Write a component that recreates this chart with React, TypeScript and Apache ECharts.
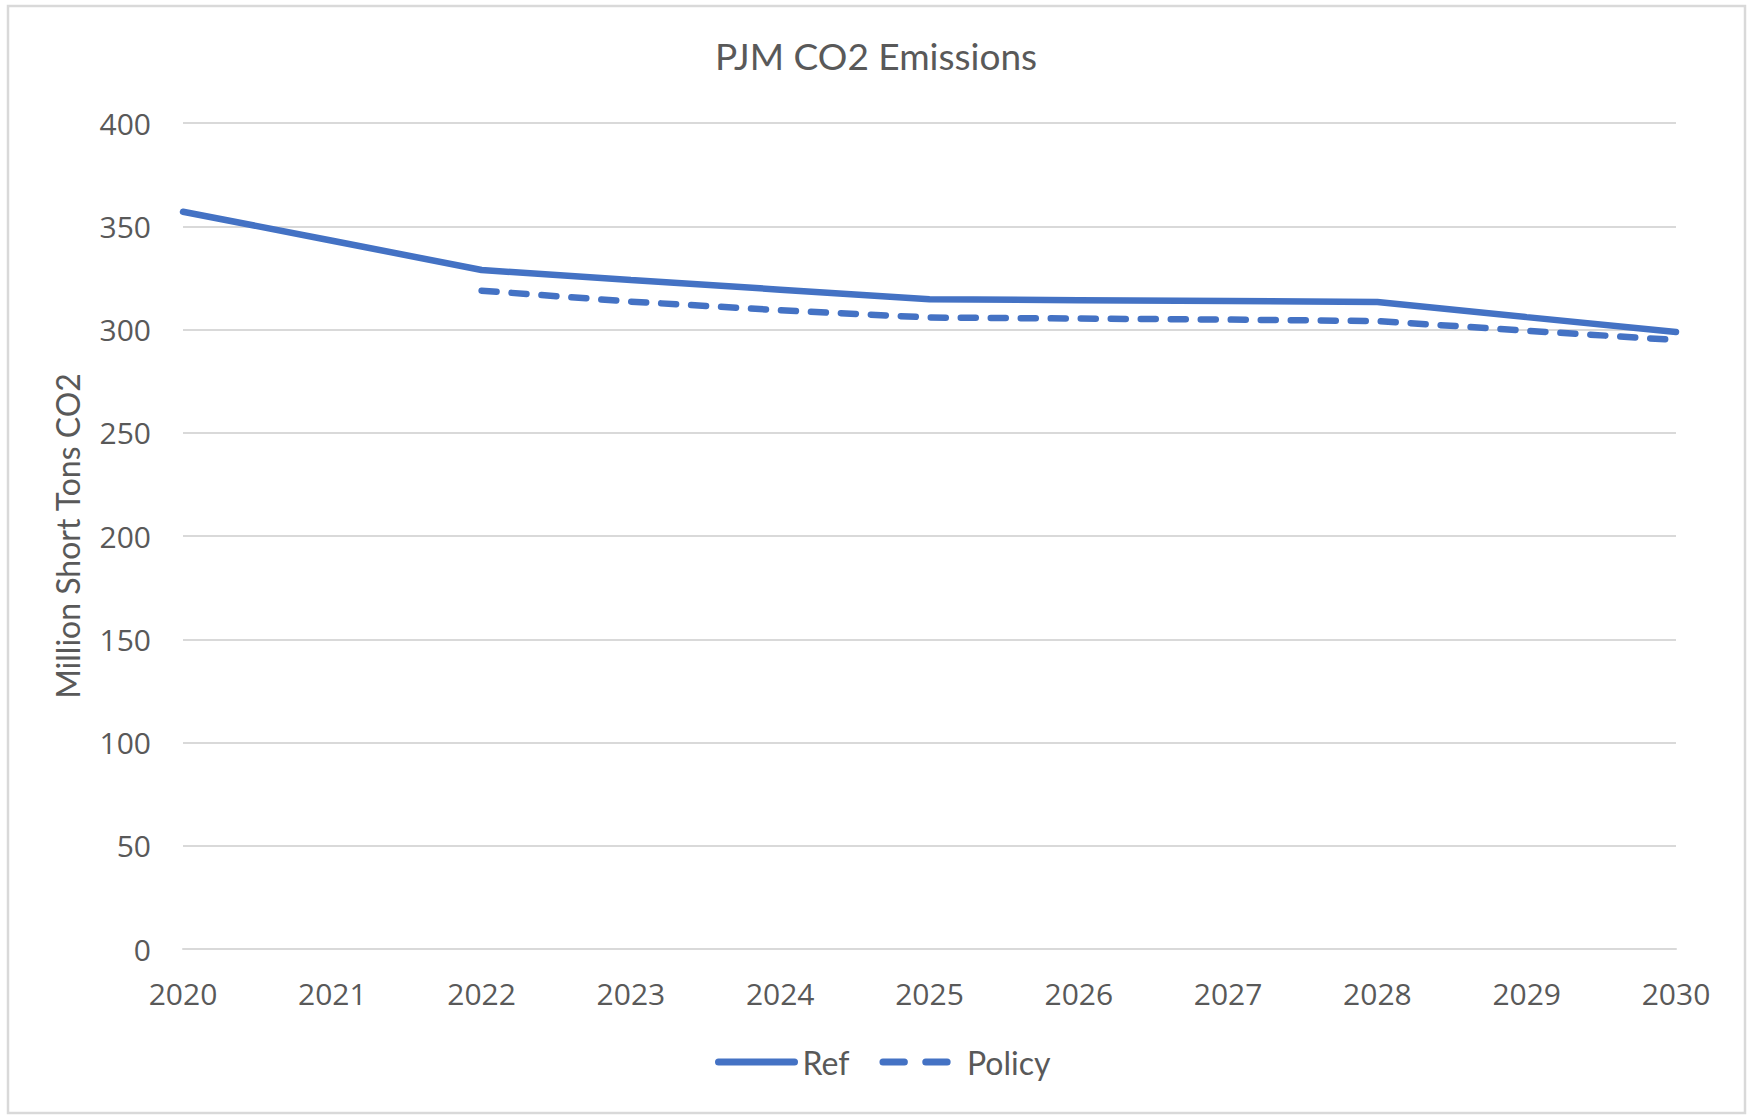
import React, { useEffect, useRef } from "react";
import * as echarts from "echarts";

const years = ["2020", "2021", "2022", "2023", "2024", "2025", "2026", "2027", "2028", "2029", "2030"];
const refValues = [357, 343, 328.8, 324, 319.3, 314.6, 314.2, 313.8, 313.3, 306, 298.8];
const policyValues: (number | null)[] = [null, null, 318.8, 313.5, 309.3, 305.8, 305.3, 304.8, 304.1, 299.4, 294.9];
const titleText = "PJM CO2 Emissions";
const yAxisName = "Million Short Tons CO2";

const BLUE = "#4472C4";
const TEXT = "#595959";
const GRID = "#d9d9d9";

export default function App() {
  const ref = useRef<HTMLDivElement>(null);
  useEffect(() => {
    if (!ref.current) return;
    const chart = echarts.init(ref.current, null, { renderer: "svg" });
    chart.setOption({
      animation: false,
      backgroundColor: "#ffffff",
      title: {
        text: titleText,
        left: "center",
        top: 32,
        textStyle: { fontFamily: "Lato", fontSize: 37, fontWeight: "normal", color: TEXT },
      },
      graphic: [
        {
          type: "rect",
          shape: { x: 8, y: 6, width: 1737, height: 1107 },
          style: { fill: "none", stroke: GRID, lineWidth: 2.5 },
          silent: true,
        },
      ],
      legend: {
        bottom: 37,
        left: 715,
        padding: 0,
        itemWidth: 76,
        itemHeight: 14,
        itemGap: 30,
        itemStyle: { opacity: 0 },
        lineStyle: { width: 7, cap: "round" },
        textStyle: { fontFamily: "Lato", fontSize: 32, color: TEXT, padding: [0, 0, 0, 3] },
        data: [
          { name: "Ref", lineStyle: { type: "solid", width: 7, cap: "round" } },
          { name: "Policy", lineStyle: { type: [21.4, 21.4], width: 7, cap: "round" } },
        ],
      },
      grid: { left: 183, right: 76, top: 123, bottom: 166 },
      xAxis: {
        type: "category",
        data: years,
        boundaryGap: false,
        axisLine: { show: true, lineStyle: { color: GRID, width: 2 } },
        axisTick: { show: false },
        axisLabel: { color: TEXT, fontFamily: "Open Sans", fontSize: 30, margin: 29 },
      },
      yAxis: {
        type: "value",
        min: 0,
        max: 400,
        interval: 50,
        name: yAxisName,
        nameLocation: "middle",
        nameGap: 100,
        nameTextStyle: { fontFamily: "Lato", fontSize: 32, color: TEXT },
        axisLine: { show: false },
        axisTick: { show: false },
        splitLine: { lineStyle: { color: GRID, width: 2 } },
        axisLabel: { color: TEXT, fontFamily: "Open Sans", fontSize: 30, margin: 32 },
      },
      series: [
        {
          name: "Ref",
          type: "line",
          data: refValues,
          symbol: "none",
          lineStyle: { color: BLUE, width: 6.5, cap: "round" },
          itemStyle: { color: BLUE },
        },
        {
          name: "Policy",
          type: "line",
          data: policyValues,
          symbol: "none",
          lineStyle: { color: BLUE, width: 6.5, type: [15, 15], cap: "round" },
          itemStyle: { color: BLUE },
        },
      ],
    });
    return () => chart.dispose();
  }, []);
  return (
    <div
      ref={ref}
      style={{ position: "absolute", left: 0, top: 0, width: 1752, height: 1115 }}
    />
  );
}
